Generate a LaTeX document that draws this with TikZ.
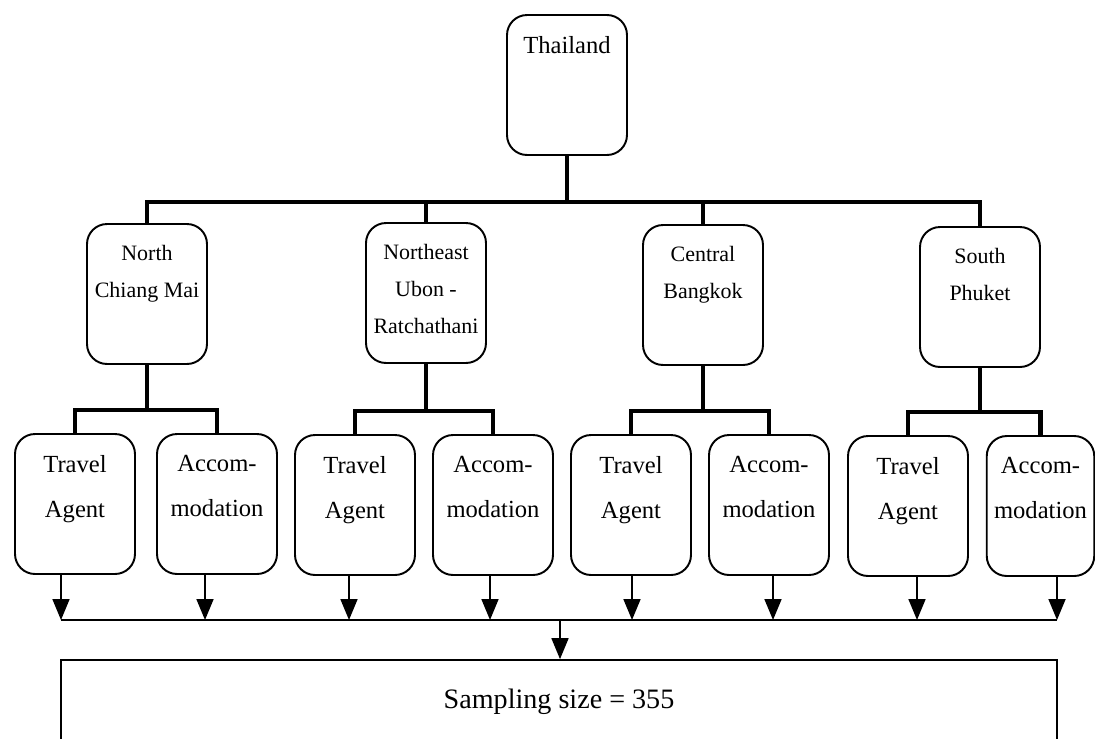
\documentclass[tikz,border=0pt]{standalone}
\usepackage{fontspec}
\setmainfont{Liberation Serif}
\usetikzlibrary{positioning,arrows.meta}

\newcommand{\intext}[2][2.4cm]{\parbox[c][2.8cm][t]{#1}{\centering\vspace*{0.42cm}#2}}

\tikzset{
  rbox/.style={draw, line width=1.1pt, rounded corners=0.4cm, inner sep=0pt},
  region/.style={rbox, font=\fontsize{12.5}{21}\selectfont},
  sector/.style={rbox, font=\fontsize{14}{25.6}\selectfont},
  bus/.style={line width=2.7pt},
  feed/.style={line width=1pt},
  drop/.style={feed, -{Triangle[width=0.34cm,length=0.42cm]}}
}

\begin{document}
\begin{tikzpicture}[x=0.02cm, y=-0.02cm]
  \useasboundingbox (0,0) rectangle (1095,738);
  \clip (0,0) rectangle (1095,738);

  \node[sector] (th) at (567,85) {\intext{Thailand}};

  \node[region] (n) at (147,294) {\intext{North\\Chiang Mai}};
  \node[region] (ne) at (426,293) {\intext{Northeast\\Ubon -\\Ratchathani}};
  \node[region] (ce) at (703,295) {\intext{Central\\Bangkok}};
  \node[region] (so) at (980,297) {\intext{South\\Phuket}};

  \node[sector] (nT) at (75,504) {\intext{Travel\\Agent}};
  \node[sector] (nA) at (217,504) {\intext{Accom-\\modation}};
  \node[sector] (neT) at (355,505) {\intext{Travel\\Agent}};
  \node[sector] (neA) at (493,505) {\intext{Accom-\\modation}};
  \node[sector] (ceT) at (631,505) {\intext{Travel\\Agent}};
  \node[sector] (ceA) at (769,505) {\intext{Accom-\\modation}};
  \node[sector] (soT) at (908,506) {\intext{Travel\\Agent}};
  \node[sector] (soA) at (1040.5,506) {\intext[2.15cm]{Accom-\\modation}};

  \node[draw, line width=1pt, minimum width=19.92cm, minimum height=1.68cm, inner sep=0pt,
        font=\fontsize{16}{19}\selectfont] (sample) at (559,702) {Sampling size = 355};

  \coordinate (bus) at (567,202);
  \draw[bus] (th.south) -- (bus);
  \draw[bus] (n.north) |- (bus) -| (so.north);
  \draw[bus] (ne.north) -- (ne.north |- bus);
  \draw[bus] (ce.north) -- (ce.north |- bus);

  \draw[bus] (nT.north) -- ++(0,-23) coordinate (nJ) -| (nA.north);
  \draw[bus] (neT.north) -- ++(0,-23) coordinate (neJ) -| (neA.north);
  \draw[bus] (ceT.north) -- ++(0,-23) coordinate (ceJ) -| (ceA.north);
  \draw[bus] (soT.north) -- ++(0,-23) coordinate (soJ) -| (soA.north);
  \draw[bus] (n.south) -- (n.south |- nJ);
  \draw[bus] (ne.south) -- (ne.south |- neJ);
  \draw[bus] (ce.south) -- (ce.south |- ceJ);
  \draw[bus] (so.south) -- (so.south |- soJ);

  \foreach \x [count=\i] in {61,205,349,490,632,773,917,1057}
    \coordinate (d\i) at (\x,620);
  \foreach \d/\b in {d1/nT, d2/nA, d3/neT, d4/neA, d5/ceT, d6/ceA, d7/soT, d8/soA}
    \draw[drop] (\d |- \b.south) -- (\d);
  \draw[feed] (d1) -- (d8);

  \coordinate (mid) at (560,620);
  \draw[drop] (mid) -- (mid |- sample.north);
\end{tikzpicture}
\end{document}
